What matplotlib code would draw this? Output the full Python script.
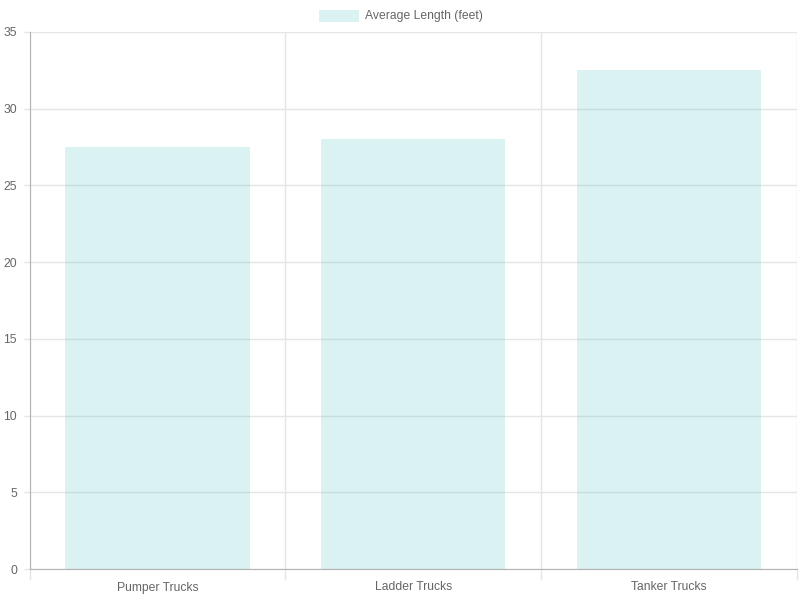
import matplotlib
matplotlib.use('Agg')
from matplotlib import pyplot as plt
from matplotlib.patches import Rectangle
import numpy as np

categories = ['Pumper Trucks', 'Ladder Trucks', 'Tanker Trucks']
avg_length = [27.5, 28.0, 32.5]
series_name = 'Average Length (feet)'
yticks = [0, 5, 10, 15, 20, 25, 30, 35]

plt.rcParams['font.family'] = ['Liberation Sans', 'DejaVu Sans']
bar_color = (75/255, 192/255, 192/255, 0.2)
text_color = '#666666'
grid_color = '#e5e5e5'
axis_color = '#b3b3b3'
fs = 8.7

fig = plt.figure(figsize=(8, 6), dpi=100)
ax = fig.add_axes([29.5/800, 31/600, (797 - 29.5)/800, (569 - 32)/600])

x = np.arange(len(categories))
ax.bar(x, avg_length, width=0.72, color=bar_color, edgecolor='none', zorder=2)

ax.set_xlim(-0.5, len(categories) - 0.5)
ax.set_ylim(0, 35)
ax.set_yticks(yticks)
ax.set_yticklabels([str(v) for v in yticks])
ax.set_xticks(x)
ax.set_xticklabels(categories)

# gridlines at category edges (offset grid) and at y ticks
for b in np.arange(len(categories) + 1) - 0.5:
    ax.axvline(b, color=grid_color, lw=1, zorder=1)
    ax.plot([b, b], [0, -0.019], transform=ax.get_xaxis_transform(),
            color=grid_color, lw=1, clip_on=False)
for v in yticks:
    ax.axhline(v, color=grid_color, lw=1, zorder=1)

ax.tick_params(axis='x', length=0, pad=9, labelsize=fs, labelcolor=text_color)
ax.tick_params(axis='y', length=4.5, width=1, color=grid_color, pad=4.5,
               labelsize=fs, labelcolor=text_color)
for side in ['top', 'right']:
    ax.spines[side].set_visible(False)
ax.spines['left'].set_color(axis_color)
ax.spines['bottom'].set_color(axis_color)
ax.spines['left'].set_zorder(3)
ax.spines['bottom'].set_zorder(3)

# legend like chart.js: colored box + label centred at top
fig.patches.append(Rectangle((319/800, 1 - 22/600), 40/800, 12/600,
                             transform=fig.transFigure, facecolor=bar_color,
                             edgecolor='none'))
fig.text(365/800, 1 - 16/600, series_name, ha='left', va='center',
         fontsize=fs, color=text_color)

fig.savefig('out.png', dpi=100)
